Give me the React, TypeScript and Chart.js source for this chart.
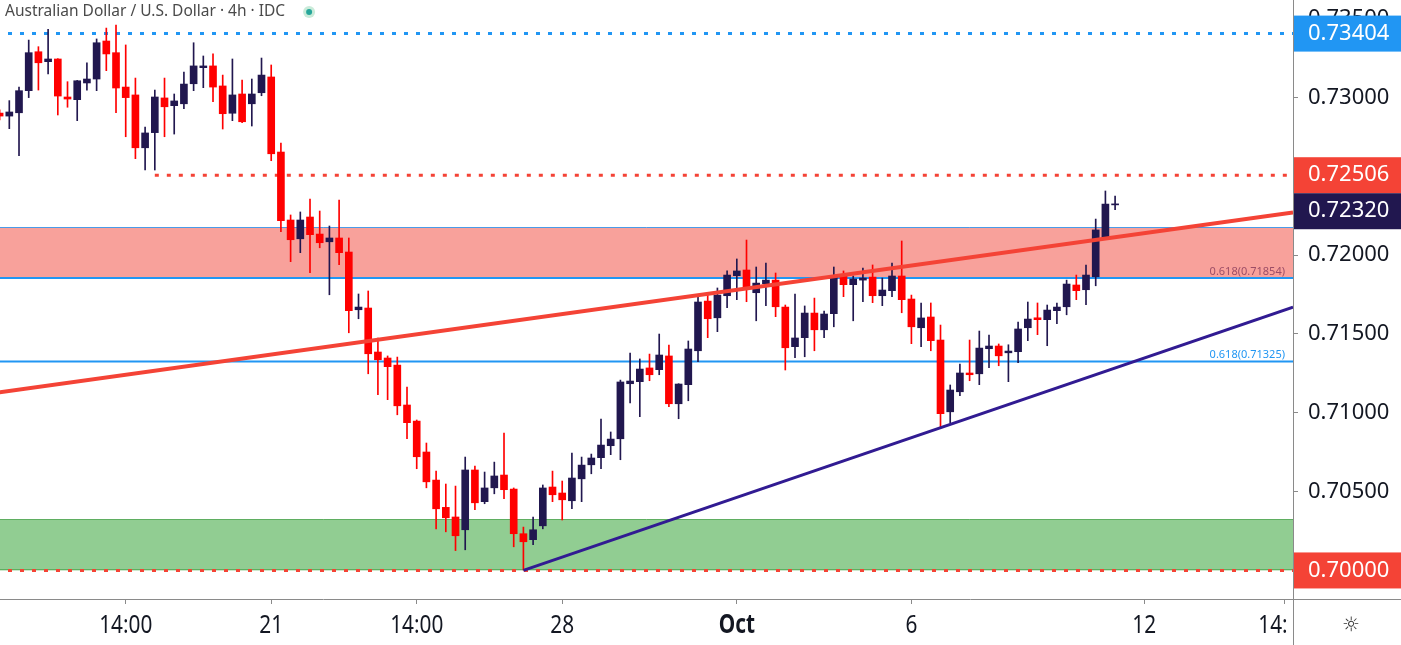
import React, { useEffect, useRef } from 'react';
import { Chart, registerables } from 'chart.js';

Chart.register(...registerables);

const opens = [0.72900, 0.72881, 0.72902, 0.73042, 0.73289, 0.73226, 0.73243, 0.73002, 0.72985, 0.73091, 0.73116, 0.73357, 0.73283, 0.73065, 0.73015, 0.72680, 0.72776, 0.72996, 0.72947, 0.72959, 0.73086, 0.73188, 0.73199, 0.73072, 0.72899, 0.73021, 0.72959, 0.73029, 0.73129, 0.72653, 0.72222, 0.72103, 0.72241, 0.72133, 0.72084, 0.72108, 0.72019, 0.71653, 0.71664, 0.71385, 0.71347, 0.71302, 0.71049, 0.70947, 0.70751, 0.70573, 0.70400, 0.70339, 0.70258, 0.70637, 0.70436, 0.70524, 0.70605, 0.70516, 0.70233, 0.70195, 0.70283, 0.70529, 0.70491, 0.70442, 0.70581, 0.70670, 0.70715, 0.70791, 0.70835, 0.71184, 0.71197, 0.71284, 0.71273, 0.71360, 0.71057, 0.71178, 0.71393, 0.71708, 0.71602, 0.71742, 0.71869, 0.71905, 0.71761, 0.71818, 0.71841, 0.71670, 0.71419, 0.71476, 0.71632, 0.71526, 0.71628, 0.71873, 0.71812, 0.71841, 0.71860, 0.71742, 0.71774, 0.71867, 0.71721, 0.71539, 0.71607, 0.71461, 0.71006, 0.71133, 0.71252, 0.71247, 0.71406, 0.71423, 0.71380, 0.71387, 0.71539, 0.71602, 0.71590, 0.71647, 0.71672, 0.71810, 0.71780, 0.71862, 0.72110, 0.72318];
const highs = [0.72920, 0.72979, 0.73065, 0.73363, 0.73321, 0.73431, 0.73245, 0.73099, 0.73107, 0.73219, 0.73370, 0.73439, 0.73458, 0.73332, 0.73122, 0.72812, 0.73046, 0.73122, 0.73021, 0.73160, 0.73346, 0.73262, 0.73275, 0.73141, 0.73243, 0.73110, 0.73116, 0.73249, 0.73205, 0.72710, 0.72254, 0.72273, 0.72355, 0.72279, 0.72184, 0.72349, 0.72108, 0.71753, 0.71772, 0.71474, 0.71360, 0.71353, 0.71163, 0.70954, 0.70808, 0.70630, 0.70548, 0.70535, 0.70719, 0.70662, 0.70624, 0.70687, 0.70871, 0.70523, 0.70275, 0.70339, 0.70542, 0.70630, 0.70567, 0.70745, 0.70719, 0.70738, 0.70960, 0.70878, 0.71207, 0.71379, 0.71341, 0.71372, 0.71499, 0.71429, 0.71184, 0.71455, 0.71740, 0.71753, 0.71791, 0.71899, 0.71975, 0.72095, 0.71924, 0.71949, 0.71886, 0.71683, 0.71753, 0.71677, 0.71727, 0.71645, 0.71924, 0.71899, 0.71867, 0.71918, 0.71937, 0.71854, 0.71949, 0.72089, 0.71746, 0.71696, 0.71696, 0.71556, 0.71176, 0.71309, 0.71461, 0.71518, 0.71493, 0.71436, 0.71431, 0.71575, 0.71702, 0.71696, 0.71683, 0.71696, 0.71841, 0.71873, 0.71937, 0.72228, 0.72406, 0.72374];
const lows = [0.72856, 0.72801, 0.72630, 0.72998, 0.73046, 0.73148, 0.72888, 0.72937, 0.72852, 0.73046, 0.73042, 0.73169, 0.72902, 0.72750, 0.72611, 0.72539, 0.72539, 0.72750, 0.72767, 0.72928, 0.73042, 0.73061, 0.72972, 0.72799, 0.72852, 0.72839, 0.72818, 0.73010, 0.72598, 0.72148, 0.71958, 0.72015, 0.71888, 0.72046, 0.71748, 0.71939, 0.71507, 0.71596, 0.71247, 0.71114, 0.71083, 0.70987, 0.70835, 0.70645, 0.70524, 0.70264, 0.70245, 0.70126, 0.70131, 0.70385, 0.70423, 0.70486, 0.70455, 0.70150, 0.70003, 0.70163, 0.70264, 0.70436, 0.70320, 0.70391, 0.70436, 0.70613, 0.70645, 0.70734, 0.70702, 0.71063, 0.70975, 0.71203, 0.71241, 0.71038, 0.70962, 0.71076, 0.71324, 0.71476, 0.71514, 0.71666, 0.71717, 0.71704, 0.71583, 0.71679, 0.71609, 0.71271, 0.71349, 0.71355, 0.71393, 0.71476, 0.71545, 0.71736, 0.71583, 0.71704, 0.71698, 0.71679, 0.71736, 0.71634, 0.71438, 0.71419, 0.71393, 0.70911, 0.70937, 0.71108, 0.71203, 0.71178, 0.71285, 0.71298, 0.71197, 0.71317, 0.71457, 0.71495, 0.71425, 0.71564, 0.71621, 0.71717, 0.71685, 0.71805, 0.72108, 0.72287];
const closes = [0.72881, 0.72907, 0.73042, 0.73283, 0.73219, 0.73243, 0.73008, 0.72989, 0.73105, 0.73116, 0.73346, 0.73275, 0.73059, 0.72998, 0.72680, 0.72774, 0.73002, 0.72940, 0.72977, 0.73084, 0.73199, 0.73199, 0.73065, 0.72896, 0.73015, 0.72845, 0.73021, 0.73141, 0.72642, 0.72218, 0.72097, 0.72222, 0.72129, 0.72078, 0.72108, 0.72015, 0.71647, 0.71670, 0.71374, 0.71336, 0.71292, 0.71044, 0.70937, 0.70721, 0.70562, 0.70391, 0.70334, 0.70220, 0.70637, 0.70429, 0.70523, 0.70599, 0.70512, 0.70233, 0.70182, 0.70258, 0.70523, 0.70480, 0.70448, 0.70586, 0.70668, 0.70713, 0.70795, 0.70833, 0.71195, 0.71201, 0.71277, 0.71241, 0.71366, 0.71057, 0.71182, 0.71404, 0.71702, 0.71596, 0.71746, 0.71873, 0.71899, 0.71799, 0.71822, 0.71841, 0.71672, 0.71412, 0.71474, 0.71632, 0.71526, 0.71626, 0.71867, 0.71812, 0.71848, 0.71854, 0.71742, 0.71778, 0.71867, 0.71717, 0.71545, 0.71601, 0.71457, 0.70994, 0.71144, 0.71252, 0.71241, 0.71410, 0.71423, 0.71361, 0.71391, 0.71531, 0.71594, 0.71590, 0.71651, 0.71670, 0.71816, 0.71774, 0.71873, 0.72159, 0.72323, 0.72320];

const xTickValues = [13, 28, 43, 58, 76, 94, 118, 132.5];
const xTickLabels = ['14:00', '21', '14:00', '28', 'Oct', '6', '12', '14:00'];
const yTickValues = [0.700, 0.705, 0.710, 0.715, 0.720, 0.725, 0.730, 0.735];

const levelPrices = [0.73404, 0.72506, 0.72320, 0.70000];
const levelColors = ['#2196f3', '#f44336', '#21174f', '#f44336'];
const dottedPrices = [0.73404, 0.72506, 0.70000];
const dottedStarts = [0, 16, 0];
const dottedColors = ['#2196f3', '#f44336', '#f44336'];
const fibPrices = [0.71854, 0.71325];
const fibLabels = ['0.618(0.71854)', '0.618(0.71325)'];
const fibLabelColors = ['#9c4d66', '#2196f3'];
const redZone = [0.72176, 0.71854];
const greenZone = [0.70324, 0.70000];
const redTrend = [0, 0.71129, 133.34, 0.72269];
const navyTrend = [54, 0.70000, 133.34, 0.71670];

const X_MIN = 0.04;
const X_MAX = 133.34;
const Y_MIN = 0.69819;
const Y_MAX = 0.73617;

const BULL = '#21174f';
const BEAR = '#ff0000';
const AXIS_FONT = "'Noto Sans', 'Open Sans', sans-serif";

const drawingsPlugin = {
  id: 'drawings',
  beforeDatasetsDraw(chart: any) {
    const { ctx, chartArea } = chart;
    const xs = chart.scales.x;
    const ys = chart.scales.y;
    const { left, right, top, bottom } = chartArea;
    ctx.save();
    ctx.beginPath();
    ctx.rect(left, top, right - left, bottom - top);
    ctx.clip();
    // red zone
    let y1 = ys.getPixelForValue(redZone[0]);
    let y2 = ys.getPixelForValue(redZone[1]);
    ctx.fillStyle = '#f8a19b';
    ctx.fillRect(left, y1, right - left, y2 - y1);
    ctx.strokeStyle = '#4a9be8';
    ctx.lineWidth = 1;
    ctx.beginPath();
    ctx.moveTo(left, Math.round(y1) + 0.5);
    ctx.lineTo(right, Math.round(y1) + 0.5);
    ctx.stroke();
    // green zone
    y1 = ys.getPixelForValue(greenZone[0]);
    y2 = ys.getPixelForValue(greenZone[1]);
    ctx.fillStyle = '#91cd92';
    ctx.fillRect(left, y1, right - left, y2 - y1);
    ctx.strokeStyle = '#5fae61';
    ctx.beginPath();
    ctx.moveTo(left, Math.round(y1) + 0.5);
    ctx.lineTo(right, Math.round(y1) + 0.5);
    ctx.moveTo(left, Math.round(y2) - 0.5);
    ctx.lineTo(right, Math.round(y2) - 0.5);
    ctx.stroke();
    // fib lines
    fibPrices.forEach((p, i) => {
      const y = ys.getPixelForValue(p);
      ctx.strokeStyle = '#2196f3';
      ctx.lineWidth = 2;
      ctx.beginPath();
      ctx.moveTo(left, y);
      ctx.lineTo(right, y);
      ctx.stroke();
      ctx.font = "11px 'Noto Sans', sans-serif";
      ctx.fillStyle = fibLabelColors[i];
      ctx.textAlign = 'right';
      ctx.textBaseline = 'bottom';
      ctx.fillText(fibLabels[i], right - 8, y - 1);
    });
    // dotted lines
    dottedPrices.forEach((p, i) => {
      const y = ys.getPixelForValue(p);
      const x0 = Math.max(left, xs.getPixelForValue(dottedStarts[i]));
      ctx.strokeStyle = dottedColors[i];
      ctx.lineWidth = 3;
      ctx.setLineDash([4, 8]);
      ctx.lineDashOffset = x0 <= left + 1 ? 4 : 0;
      ctx.beginPath();
      ctx.moveTo(x0, y);
      ctx.lineTo(right, y);
      ctx.stroke();
    });
    ctx.setLineDash([]);
    ctx.restore();
  },
  afterDatasetsDraw(chart: any) {
    const { ctx, chartArea } = chart;
    const xs = chart.scales.x;
    const ys = chart.scales.y;
    const { left, right, top, bottom } = chartArea;
    ctx.save();
    ctx.beginPath();
    ctx.rect(left, top, right - left, bottom - top);
    ctx.clip();
    const lines: [number[], string, number][] = [
      [redTrend, '#f44336', 4],
      [navyTrend, '#311b92', 3],
    ];
    lines.forEach(([t, c, w]) => {
      ctx.strokeStyle = c;
      ctx.lineWidth = w;
      ctx.beginPath();
      ctx.moveTo(xs.getPixelForValue(t[0]), ys.getPixelForValue(t[1]));
      ctx.lineTo(xs.getPixelForValue(t[2]), ys.getPixelForValue(t[3]));
      ctx.stroke();
    });
    ctx.restore();
  },
  afterDraw(chart: any) {
    const { ctx, chartArea, width, height } = chart;
    const xs = chart.scales.x;
    const ys = chart.scales.y;
    const { right, bottom } = chartArea;
    ctx.save();
    // x tick labels (condensed)
    ctx.save();
    ctx.beginPath();
    ctx.rect(0, bottom + 1, right - 6, height - bottom);
    ctx.clip();
    ctx.fillStyle = '#131722';
    ctx.textAlign = 'center';
    ctx.textBaseline = 'middle';
    xs.ticks.forEach((t: any, i: number) => {
      const x = xs.getPixelForValue(t.value);
      const lab = xTickLabels[i];
      ctx.font = `${lab === 'Oct' ? 'bold ' : ''}26px ${AXIS_FONT}`;
      ctx.save();
      ctx.translate(x, 626);
      ctx.scale(0.8, 1);
      ctx.fillText(lab, 0, 0);
      ctx.restore();
    });
    ctx.restore();
    // extend axis lines
    ctx.strokeStyle = '#8a8a8a';
    ctx.lineWidth = 1;
    ctx.beginPath();
    ctx.moveTo(Math.round(right) + 0.5, bottom);
    ctx.lineTo(Math.round(right) + 0.5, height);
    ctx.moveTo(right, Math.round(bottom) + 0.5);
    ctx.lineTo(width, Math.round(bottom) + 0.5);
    ctx.stroke();
    // price label boxes
    const items = levelPrices.map((p, i) => ({ p, c: levelColors[i] })).sort((a, b) => b.p - a.p);
    let prevBottom = -Infinity;
    const boxH = 36;
    items.forEach((it) => {
      const cy0 = ys.getPixelForValue(it.p);
      let t = cy0 - boxH / 2;
      if (t < prevBottom) t = prevBottom;
      prevBottom = t + boxH;
      ctx.fillStyle = it.c;
      ctx.fillRect(right + 1, t, width - right - 1, boxH);
      ctx.fillStyle = '#ffffff';
      ctx.font = `22px ${AXIS_FONT}`;
      ctx.textAlign = 'left';
      ctx.textBaseline = 'middle';
      ctx.fillText(it.p.toFixed(5), right + 15, t + boxH / 2);
    });
    // settings glyph
    ctx.fillStyle = '#333333';
    ctx.font = "20px 'DejaVu Sans', sans-serif";
    ctx.textAlign = 'center';
    ctx.textBaseline = 'middle';
    ctx.fillText('☼', 1351, 626);
    // title
    ctx.font = `15.5px ${AXIS_FONT}`;
    ctx.fillStyle = '#4a4a4a';
    ctx.textAlign = 'left';
    ctx.textBaseline = 'middle';
    const title = 'Australian Dollar / U.S. Dollar · 4h · IDC';
    ctx.fillText(title, 5, 12);
    const tw = ctx.measureText(title).width;
    const cx = 5 + tw + 24;
    ctx.fillStyle = '#c9ebd9';
    ctx.beginPath();
    ctx.arc(cx, 12, 6, 0, Math.PI * 2);
    ctx.fill();
    ctx.fillStyle = '#26a69a';
    ctx.beginPath();
    ctx.arc(cx, 12, 3, 0, Math.PI * 2);
    ctx.fill();
    ctx.restore();
  },
};

export default function App() {
  const ref = useRef<HTMLCanvasElement>(null);
  useEffect(() => {
    document.body.style.margin = '0';
    const idx = opens.map((_, i) => i);
    const colorFor = (ctx: any) => {
      const i = ctx.dataIndex;
      return closes[i] >= opens[i] ? BULL : BEAR;
    };
    const chart = new Chart(ref.current as HTMLCanvasElement, {
      type: 'bar',
      data: {
        datasets: [
          {
            label: 'body',
            data: idx.map((i) => ({ x: i, y: [opens[i], closes[i]] })) as any,
            backgroundColor: colorFor,
            barThickness: 7,
            minBarLength: 1,
            grouped: false,
            borderWidth: 0,
            order: 0,
          },
          {
            label: 'wick',
            data: idx.map((i) => ({ x: i, y: [lows[i], highs[i]] })) as any,
            backgroundColor: colorFor,
            barThickness: 1,
            grouped: false,
            borderWidth: 0,
            order: 1,
          },
        ],
      },
      options: {
        animation: false,
        responsive: false,
        devicePixelRatio: 1,
        layout: { padding: 0 },
        plugins: { legend: { display: false }, tooltip: { enabled: false } },
        scales: {
          x: {
            type: 'linear',
            min: X_MIN,
            max: X_MAX,
            offset: false,
            afterBuildTicks: (scale: any) => {
              scale.ticks = xTickValues.map((v) => ({ value: v }));
            },
            afterFit: (scale: any) => {
              scale.height = 46;
              scale.paddingLeft = 0;
              scale.paddingRight = 0;
            },
            grid: {
              display: true,
              offset: false,
              drawOnChartArea: false,
              drawTicks: true,
              tickLength: 5,
              color: '#8a8a8a',
            },
            border: { display: true, color: '#8a8a8a' },
            ticks: {
              display: false,
              autoSkip: false,
              maxRotation: 0,
              callback: (_v: any, i: number) => xTickLabels[i],
            },
          },
          y: {
            type: 'linear',
            position: 'right',
            min: Y_MIN,
            max: Y_MAX,
            beginAtZero: false,
            afterBuildTicks: (scale: any) => {
              scale.ticks = yTickValues.map((v) => ({ value: v }));
            },
            afterFit: (scale: any) => {
              scale.width = 108;
              scale.paddingTop = 0;
              scale.paddingBottom = 0;
            },
            grid: {
              display: true,
              drawOnChartArea: false,
              drawTicks: true,
              tickLength: 5,
              color: '#8a8a8a',
            },
            border: { display: true, color: '#8a8a8a' },
            ticks: {
              autoSkip: false,
              padding: 10,
              color: '#131722',
              font: { family: AXIS_FONT, size: 22 },
              callback: (v: any) => Number(v).toFixed(5),
            },
          },
        },
      } as any,
      plugins: [drawingsPlugin],
    });
    return () => chart.destroy();
  }, []);
  return (
    <div style={{ position: 'fixed', left: 0, top: 0, width: 1401, height: 645, background: '#ffffff' }}>
      <canvas ref={ref} width={1401} height={645} style={{ display: 'block', width: 1401, height: 645 }} />
    </div>
  );
}
